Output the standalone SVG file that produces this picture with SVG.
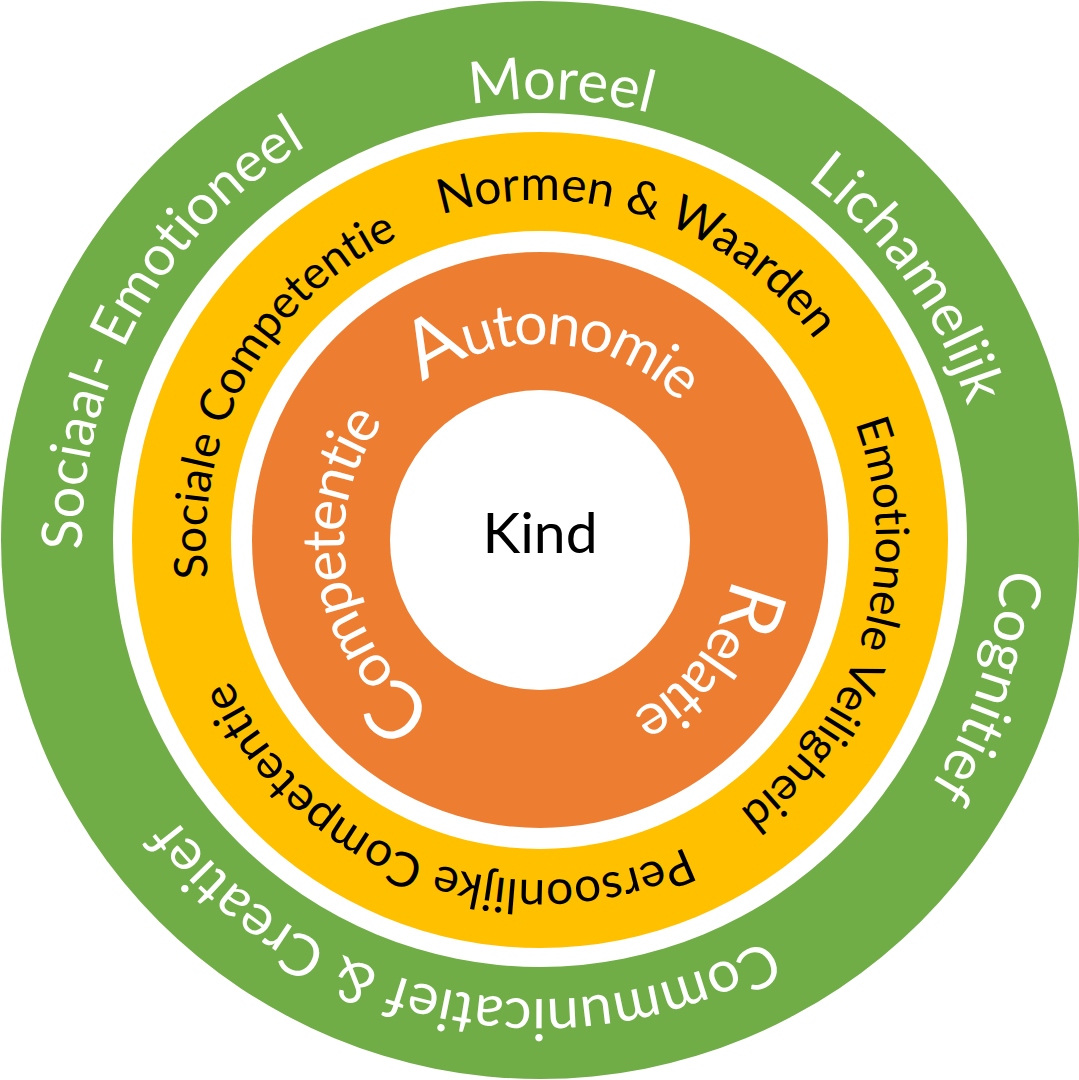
<svg xmlns="http://www.w3.org/2000/svg" xmlns:xlink="http://www.w3.org/1999/xlink" width="1079" height="1080" viewBox="0 0 1079 1080">
<style>
.g{fill:#70AD47}.y{fill:#FFC000}.o{fill:#ED7D31}.w{fill:#FFFFFF}
.t{font-family:Lato,"Open Sans","Noto Sans",sans-serif;font-variant-ligatures:none;font-feature-settings:"liga" 0,"clig" 0}
.tw{fill:#FFFFFF}.tb{fill:#000000}
.gt{font-size:58px}.yt{font-size:48px}.ot{font-size:59px;letter-spacing:-2.5px}.big{font-size:80px}
</style>
<defs>
<path id="pMor" d="M540 981A441 441 0 0 1 540 99A441 441 0 0 1 540 981A441 441 0 0 1 540 99A441 441 0 0 1 540 981"/>
<path id="pLic" d="M540 988A448 448 0 0 1 540 92A448 448 0 0 1 540 988A448 448 0 0 1 540 92A448 448 0 0 1 540 988"/>
<path id="pCog" d="M540 1002A462 462 0 0 1 540 78A462 462 0 0 1 540 1002A462 462 0 0 1 540 78A462 462 0 0 1 540 1002"/>
<path id="pCom" d="M540 999A459 459 0 0 1 540 81A459 459 0 0 1 540 999A459 459 0 0 1 540 81A459 459 0 0 1 540 999"/>
<path id="pSoc" d="M540 998A458 458 0 0 1 540 82A458 458 0 0 1 540 998A458 458 0 0 1 540 82A458 458 0 0 1 540 998"/>
<path id="pNor" d="M540 880A340 340 0 0 1 540 200A340 340 0 0 1 540 880A340 340 0 0 1 540 200A340 340 0 0 1 540 880"/>
<path id="pEmo" d="M540 876A336 336 0 0 1 540 204A336 336 0 0 1 540 876A336 336 0 0 1 540 204A336 336 0 0 1 540 876"/>
<path id="pSC" d="M540 874A334 334 0 0 1 540 206A334 334 0 0 1 540 874A334 334 0 0 1 540 206A334 334 0 0 1 540 874"/>
<path id="pOr" d="M540 736A196 196 0 0 1 540 344A196 196 0 0 1 540 736A196 196 0 0 1 540 344A196 196 0 0 1 540 736"/>
</defs>
<g id="rings">
<circle class="g" cx="540" cy="540" r="539"/>
<circle class="w" cx="540" cy="540" r="427"/>
<circle class="y" cx="540" cy="540" r="408"/>
<circle class="w" cx="540" cy="540" r="309"/>
<circle class="o" cx="540" cy="540" r="288"/>
<circle class="w" cx="540" cy="540" r="150"/>
</g>
<g id="green-labels" class="t tw gt" text-anchor="middle">
<text id="moreel"><textPath xlink:href="#pMor" startOffset="1405.5">Moreel</textPath></text>
<text id="lichamelijk"><textPath xlink:href="#pLic" startOffset="1833.6">Lichamelijk</textPath></text>
<text id="cognitief"><textPath xlink:href="#pCog" startOffset="2322.3">Cognitief</textPath></text>
<text id="communicatief"><textPath xlink:href="#pCom" startOffset="2976.1">Communicatief &amp; Creatief</textPath></text>
<text id="sociaal" font-size="56"><textPath xlink:href="#pSoc" startOffset="3828.9">Sociaal- Emotioneel</textPath></text>
</g>
<g id="yellow-labels" class="t tb yt" text-anchor="middle">
<text id="normen"><textPath xlink:href="#pNor" startOffset="1177.9">Normen &amp; Waarden</textPath></text>
<text id="emotionele" font-size="46"><textPath xlink:href="#pEmo" startOffset="1680.1">Emotionele Veiligheid</textPath></text>
<text id="persoonlijke"><textPath xlink:href="#pNor" startOffset="2255.0">Persoonlijke Competentie</textPath></text>
<text id="sociale" font-size="46"><textPath xlink:href="#pSC" startOffset="2792.3">Sociale Competentie</textPath></text>
</g>
<g id="orange-labels" class="t tw ot" text-anchor="middle">
<text id="autonomie"><textPath xlink:href="#pOr" startOffset="629.4"><tspan class="big">A</tspan>utonomie</textPath></text>
<text id="relatie"><textPath xlink:href="#pOr" startOffset="1046.8"><tspan class="big">R</tspan>elatie</textPath></text>
<text id="competentie"><textPath xlink:href="#pOr" startOffset="1501.7"><tspan class="big">C</tspan>ompetentie</textPath></text>
</g>
<g id="kind">
<text class="t tb" x="540" y="553" font-size="57" text-anchor="middle">Kind</text>
</g>
</svg>
